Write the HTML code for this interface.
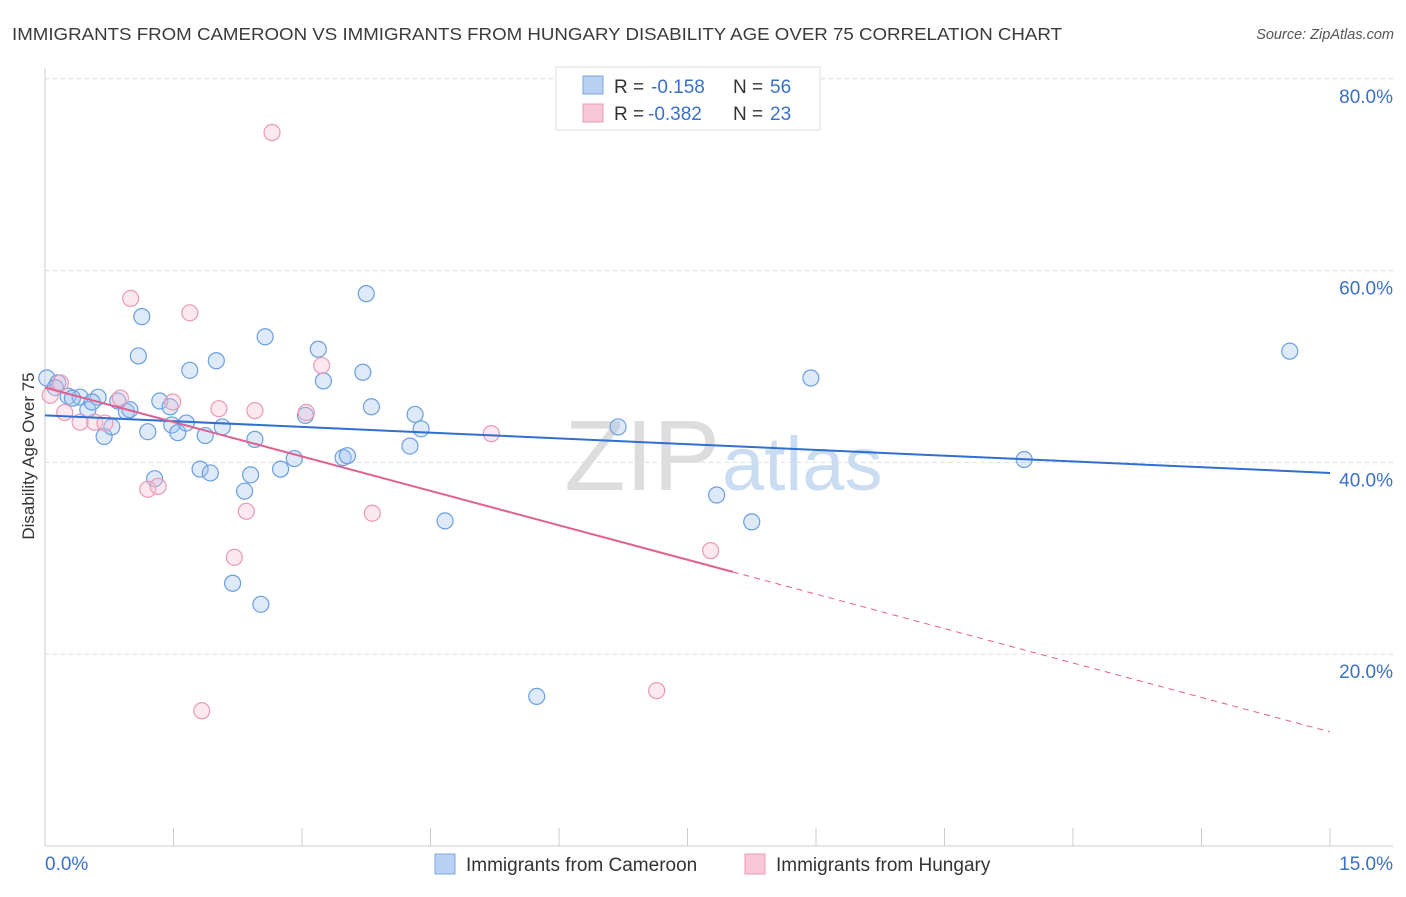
<!DOCTYPE html>
<html><head><meta charset="utf-8"><style>
body{margin:0;background:#fff;font-family:"Liberation Sans",sans-serif}
svg text{font-family:"Liberation Sans",sans-serif}
</style></head><body>
<svg id="c" width="1406" height="892">
<text x="12" y="40" font-size="17.5" fill="#3a3a3a" textLength="1050" lengthAdjust="spacingAndGlyphs">IMMIGRANTS FROM CAMEROON VS IMMIGRANTS FROM HUNGARY DISABILITY AGE OVER 75 CORRELATION CHART</text>
<text x="1394" y="39" font-size="14.5" fill="#555" font-style="italic" text-anchor="end">Source: ZipAtlas.com</text>
<text x="720" y="490" font-size="100" fill="#ddd" text-anchor="end" font-family="Liberation Serif">ZIP</text>
<text x="722" y="490" font-size="76" fill="#c9dcf2">atlas</text>
<text transform="translate(34,456) rotate(-90)" font-size="17" fill="#333" text-anchor="middle">Disability Age Over 75</text>
<g id="grid"></g><g id="marks"></g>
<g>
<rect x="556" y="67" width="264" height="63" fill="#fff" stroke="#ddd"/>
<rect x="583" y="76" width="20" height="18" fill="#b8d1f3" stroke="#7aa6e0"/>
<rect x="583" y="104" width="20" height="18" fill="#f9c8d8" stroke="#eb9ab5"/>
<text x="614" y="93" font-size="19" fill="#333">R =</text>
<text x="651" y="93" font-size="19" fill="#3a70c8">-0.158</text>
<text x="733" y="93" font-size="19" fill="#333">N =</text>
<text x="770" y="93" font-size="19" fill="#3a70c8">56</text>
<text x="614" y="120" font-size="19" fill="#333">R =</text>
<text x="648" y="120" font-size="19" fill="#3a70c8">-0.382</text>
<text x="733" y="120" font-size="19" fill="#333">N =</text>
<text x="770" y="120" font-size="19" fill="#3a70c8">23</text>
</g>
<g>
<rect x="435" y="854" width="20" height="20" fill="#b8d1f3" stroke="#7aa6e0"/>
<text x="466" y="871" font-size="19" fill="#333">Immigrants from Cameroon</text>
<rect x="745" y="854" width="20" height="20" fill="#f9c8d8" stroke="#eb9ab5"/>
<text x="776" y="871" font-size="19" fill="#333">Immigrants from Hungary</text>
</g>
</svg>
<script>
const yTicks=[20,40,60,80];
const xTickLabels=["0.0%","15.0%"];
const blueX=[0.02,0.15,0.12,0.27,0.41,0.50,0.62,0.55,0.69,0.78,0.85,0.95,0.99,1.13,1.09,1.20,1.28,1.34,1.48,1.46,1.55,1.65,1.69,1.81,1.87,1.93,2.00,2.07,2.19,2.33,2.40,2.45,2.52,2.57,2.75,2.91,3.04,3.19,3.25,3.48,3.53,3.71,3.75,3.81,4.26,4.32,4.39,4.67,5.74,6.69,7.84,8.25,8.94,11.43,14.53,0.32];
const blueY=[48.8,48.3,47.8,46.9,46.8,45.5,46.8,46.3,42.7,43.7,46.4,45.3,45.5,55.2,51.1,43.2,38.3,46.4,43.9,45.8,43.1,44.1,49.6,39.3,42.8,38.9,50.6,43.7,27.4,37.0,38.7,42.4,25.2,53.1,39.3,40.4,44.9,51.8,48.5,40.5,40.7,49.4,57.6,45.8,41.7,45.0,43.5,33.9,15.6,43.7,36.6,33.8,48.8,40.3,51.6,46.7];
const pinkX=[0.06,0.18,0.23,0.41,0.58,0.70,0.88,1.00,1.20,1.32,1.49,1.69,1.83,2.03,2.21,2.35,2.45,2.65,3.05,3.23,3.82,5.21,7.14,7.77];
const pinkY=[47.0,48.3,45.2,44.2,44.2,44.1,46.7,57.1,37.2,37.5,46.3,55.6,14.1,45.6,30.1,34.9,45.4,74.4,45.2,50.1,34.7,43.0,16.2,30.8];
const blueTrend=[44.9,38.9];
const pinkTrend=[47.8,11.9];
const pinkSolidEnd=8.03;
const NS="http://www.w3.org/2000/svg";
const X=v=>45+v/15*1285, Y=v=>846-v*9.59;
function mk(p,t,a){const e=document.createElementNS(NS,t);for(const k in a)e.setAttribute(k,a[k]);p.appendChild(e);return e;}
const g=document.getElementById('grid'),m=document.getElementById('marks');
yTicks.forEach(t=>{
 const l=mk(g,'line',{x1:45,x2:1393,y1:Y(t),y2:Y(t),stroke:'#ddd','stroke-dasharray':'4,4'});
 
 
 const tx=mk(g,'text',{x:1393,y:Y(t)+24,'font-size':19,fill:'#3a70c8','text-anchor':'end'});tx.textContent=t.toFixed(1)+'%';
 
 
});
mk(g,'line',{x1:45,x2:45,y1:68,y2:846,stroke:'#ccc'});
mk(g,'line',{x1:45,x2:1393,y1:846,y2:846,stroke:'#ccc'});
for(let i=0;i<=10;i++){const t=mk(g,'line',{x1:X(i*1.5),x2:X(i*1.5),y1:828,y2:846,stroke:'#ccc'});
 
 }
const xl0=mk(g,'text',{x:45,y:870,'font-size':19,fill:'#3a70c8'});xl0.textContent=xTickLabels[0];


const xl1=mk(g,'text',{x:1393,y:870,'font-size':19,fill:'#3a70c8','text-anchor':'end'});xl1.textContent=xTickLabels[1];


blueX.forEach((v,i)=>{const c=mk(m,'circle',{cx:X(v),cy:Y(blueY[i]),r:8,fill:'rgba(160,195,240,0.35)',stroke:'#6a9fde','stroke-width':1.2});
 
 });
pinkX.forEach((v,i)=>{const c=mk(m,'circle',{cx:X(v),cy:Y(pinkY[i]),r:8,fill:'rgba(248,190,210,0.35)',stroke:'#e89ab5','stroke-width':1.2});
 
 });
const bl=mk(m,'line',{x1:X(0),y1:Y(blueTrend[0]),x2:X(15),y2:Y(blueTrend[1]),stroke:'#2f6fd0','stroke-width':2});


const pm=pinkTrend[0]+(pinkTrend[1]-pinkTrend[0])*pinkSolidEnd/15;
const pl=mk(m,'line',{x1:X(0),y1:Y(pinkTrend[0]),x2:X(pinkSolidEnd),y2:Y(pm),stroke:'#e0608f','stroke-width':2});


const pd=mk(m,'line',{x1:X(pinkSolidEnd),y1:Y(pm),x2:X(15),y2:Y(pinkTrend[1]),stroke:'#e0608f','stroke-width':1,'stroke-dasharray':'6,5'});


</script>
</body></html>
